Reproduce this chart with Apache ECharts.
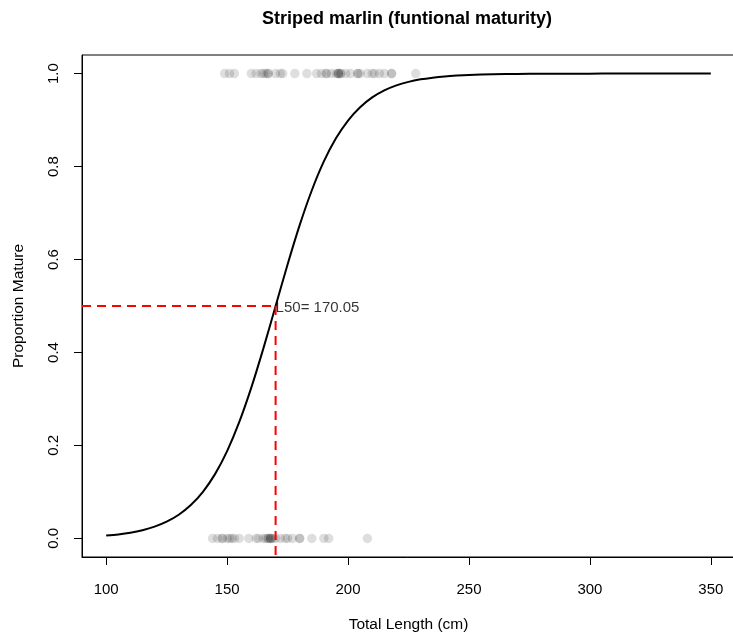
<!DOCTYPE html>
<html>
<head>
<meta charset="utf-8">
<script src="https://cdn.jsdelivr.net/npm/echarts@6/dist/echarts.min.js"></script>
<style>
html,body{margin:0;padding:0;background:#fff;}
#chart{width:733px;height:637px;}
</style>
</head>
<body>
<div id="chart"></div>
<script>
// ---- Data ----
const titleText = 'Striped marlin (funtional maturity)';
const xAxisTitle = 'Total Length (cm)';
const yAxisTitle = 'Proportion Mature';
const xTicks = [100, 150, 200, 250, 300, 350];
const yTicks = [0, 0.2, 0.4, 0.6, 0.8, 1.0];
const L50 = 170.05;
const halfLevel = 0.5;

// fitted maturity ogive
const curveLength = [100,105,110,115,120,125,130,135,140,145,150,155,160,165,170,175,180,185,190,195,200,205,210,215,220,225,230,235,240,245,250,260,270,280,290,300,310,320,330,340,350];
const curveProp   = [0.006,0.0086,0.0123,0.0177,0.0253,0.036,0.051,0.0718,0.1003,0.1383,0.1878,0.25,0.3243,0.4088,0.4991,0.5893,0.6739,0.7485,0.811,0.8607,0.899,0.9276,0.9487,0.9638,0.9746,0.9822,0.9876,0.9913,0.994,0.9958,0.9971,0.9986,0.9993,0.9997,0.9998,0.9999,1.0,1.0,1.0,1.0,1.0];

// observed fish: mature (1) and immature (0) lengths
const matureLength = [149,151,153,160,162,164,165,166,167,167,170,172,173,178,183,187,189,191,191,193,195,196,196,196,197,197,199,201,204,204,205,208,210,211,213,215,218,218,228];
const immatureLength = [144,146,148,148,150,151,152,153,155,159,162,163,165,166,167,167,168,168,168,169,170,172,174,175,177,180,180,185,190,192,208];

const xMin = 90, xMax = 360, yMin = -0.04, yMax = 1.04;

// ---- build series ----
const curveData = curveLength.map((x, i) => [x, curveProp[i]]);
const matureData = matureLength.map(x => [x, 1]);
const immatureData = immatureLength.map(x => [x, 0]);

const font = 'Liberation Sans, Arial, Helvetica, sans-serif';
const chart = echarts.init(document.getElementById('chart'), null, {renderer: 'canvas'});
chart.setOption({
  animation: false,
  backgroundColor: '#fff',
  title: {
    text: titleText,
    left: 262, top: 10, padding: 0,
    textStyle: {fontFamily: font, fontSize: 18, fontWeight: 'bold', color: '#000'}
  },
  grid: {
    left: 82, right: -2, top: 55, bottom: 80,
    show: true, borderColor: '#000', borderWidth: 1,
    containLabel: false, outerBoundsMode: 'none'
  },
  xAxis: {
    type: 'value', min: xMin, max: xMax,
    name: xAxisTitle, nameLocation: 'middle', nameGap: 60,
    nameTextStyle: {fontFamily: font, fontSize: 15.5, color: '#000'},
    axisLine: {show: true, onZero: false, lineStyle: {color: '#000', width: 1}},
    axisTick: {show: true, length: 8, lineStyle: {color: '#000'}, customValues: xTicks},
    axisLabel: {customValues: xTicks, margin: 25, fontFamily: font, fontSize: 15, color: '#000'},
    splitLine: {show: false}
  },
  yAxis: {
    type: 'value', min: yMin, max: yMax,
    name: yAxisTitle, nameLocation: 'middle', nameGap: 55, nameRotate: 90,
    nameTextStyle: {fontFamily: font, fontSize: 15.5, color: '#000'},
    axisLine: {show: true, onZero: false, lineStyle: {color: '#000', width: 1}},
    axisTick: {show: true, length: 8, lineStyle: {color: '#000'}, customValues: yTicks},
    axisLabel: {customValues: yTicks, rotate: 90, margin: 21, align: 'center', verticalAlign: 'bottom',
      fontFamily: font, fontSize: 15, color: '#000', formatter: v => v.toFixed(1)},
    splitLine: {show: false}
  },
  series: [
    {
      type: 'scatter', data: matureData, symbol: 'circle', symbolSize: 9.5,
      itemStyle: {color: 'rgba(0,0,0,0.16)'}, silent: true, z: 1
    },
    {
      type: 'scatter', data: immatureData, symbol: 'circle', symbolSize: 9.5,
      itemStyle: {color: 'rgba(0,0,0,0.16)'}, silent: true, z: 1
    },
    {
      type: 'line', data: curveData, showSymbol: false, smooth: 0.3,
      lineStyle: {color: '#000', width: 2}, silent: true, z: 2
    },
    {
      type: 'line', data: [[xMin, halfLevel], [L50, halfLevel]], showSymbol: false,
      lineStyle: {color: '#ff0000', width: 2, type: [9, 6]}, silent: true, z: 3
    },
    {
      type: 'line', data: [[L50, halfLevel], [L50, yMin]], showSymbol: false,
      lineStyle: {color: '#ff0000', width: 2, type: [9, 6]}, silent: true, z: 3
    },
    {
      type: 'scatter', data: [[L50, halfLevel]], symbolSize: 0, silent: true, z: 4,
      label: {show: true, position: 'right', distance: 0, offset: [0, 2], formatter: 'L50= ' + L50,
        fontFamily: font, fontSize: 15, color: '#000', textBorderWidth: 0}
    }
  ]
});
</script>
</body>
</html>
